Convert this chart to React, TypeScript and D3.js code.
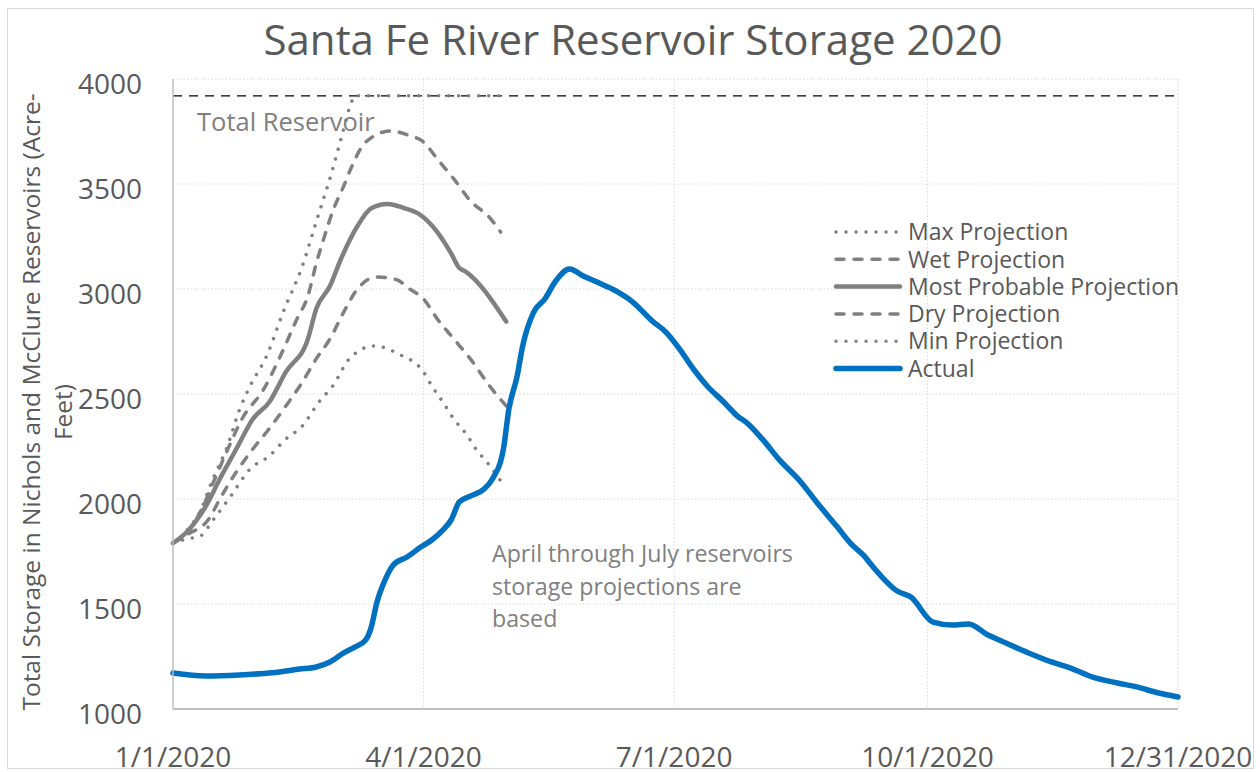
import React from 'react';
import * as d3 from 'd3';

type Pt = [string, number];

// Values (month/day in 2020, acre-feet)
const maxProjection: Pt[] = [
  ['1/1', 1790], ['1/6', 1850], ['1/11', 1945], ['1/15', 2080], ['1/21', 2260], ['1/25', 2420],
  ['1/29', 2538], ['2/4', 2681], ['2/10', 2890], ['2/17', 3110], ['2/22', 3319], ['2/28', 3571],
  ['3/2', 3714], ['3/6', 3895], ['3/7', 3920], ['4/29', 3920],
];
const wetProjection: Pt[] = [
  ['1/1', 1790], ['1/6', 1840], ['1/11', 1940], ['1/16', 2090], ['1/21', 2240], ['1/26', 2380],
  ['2/3', 2524], ['2/9', 2681], ['2/15', 2857], ['2/19', 2967], ['2/22', 3120], ['2/25', 3250],
  ['2/28', 3370], ['3/3', 3490], ['3/6', 3586], ['3/11', 3700], ['3/20', 3752], ['3/27', 3730],
  ['4/1', 3700], ['4/6', 3619], ['4/12', 3524], ['4/18', 3420], ['4/25', 3340], ['4/29', 3271],
];
const mostProbableProjection: Pt[] = [
  ['1/1', 1790], ['1/6', 1843], ['1/13', 1967], ['1/18', 2095], ['1/24', 2238], ['1/30', 2381],
  ['2/5', 2462], ['2/11', 2605], ['2/19', 2762], ['2/22', 2905], ['2/27', 3014], ['3/2', 3143],
  ['3/8', 3300], ['3/13', 3385], ['3/19', 3405], ['3/25', 3385], ['3/30', 3360], ['4/6', 3271],
  ['4/11', 3170], ['4/14', 3100], ['4/16', 3085], ['5/1', 2845],
];
const dryProjection: Pt[] = [
  ['1/1', 1790], ['1/6', 1830], ['1/14', 1905], ['1/18', 2000], ['1/24', 2129], ['1/30', 2238],
  ['2/4', 2319], ['2/11', 2443], ['2/17', 2557], ['2/22', 2667], ['2/27', 2762], ['3/3', 2890],
  ['3/8', 3000], ['3/15', 3057], ['3/22', 3045], ['3/27', 3000], ['4/1', 2952], ['4/6', 2857],
  ['4/12', 2762], ['4/18', 2667], ['4/25', 2538], ['5/1', 2443],
];
const minProjection: Pt[] = [
  ['1/1', 1790], ['1/6', 1810], ['1/11', 1824], ['1/15', 1890], ['1/22', 2014], ['1/29', 2143],
  ['2/5', 2205], ['2/11', 2286], ['2/17', 2348], ['2/23', 2462], ['2/28', 2538], ['3/5', 2667],
  ['3/14', 2729], ['3/23', 2690], ['4/1', 2605], ['4/4', 2538], ['4/8', 2462], ['4/12', 2381],
  ['4/17', 2300], ['4/20', 2238], ['4/24', 2176], ['4/29', 2086],
];
const actual: Pt[] = [
  ['1/1', 1171], ['1/13', 1157], ['1/25', 1162], ['2/6', 1173], ['2/16', 1190], ['2/22', 1200],
  ['2/27', 1224], ['3/3', 1267], ['3/7', 1295], ['3/11', 1329], ['3/13', 1390], ['3/15', 1505],
  ['3/18', 1614], ['3/21', 1686], ['3/26', 1724], ['3/31', 1771], ['4/4', 1805], ['4/8', 1852],
  ['4/11', 1900], ['4/14', 1986], ['4/18', 2014], ['4/23', 2048], ['4/26', 2095], ['4/30', 2238],
  ['5/2', 2429], ['5/5', 2586], ['5/7', 2729], ['5/11', 2890], ['5/15', 2952], ['5/19', 3038],
  ['5/24', 3095], ['5/29', 3062], ['6/3', 3033], ['6/10', 2990], ['6/16', 2938], ['6/23', 2848],
  ['6/28', 2795], ['7/3', 2714], ['7/8', 2619], ['7/13', 2538], ['7/19', 2462], ['7/24', 2395],
  ['7/27', 2367], ['8/2', 2286], ['8/8', 2190], ['8/16', 2081], ['8/22', 1981], ['8/29', 1871],
  ['9/3', 1790], ['9/8', 1729], ['9/11', 1681], ['9/20', 1562], ['9/25', 1533], ['10/3', 1414],
  ['10/10', 1400], ['10/16', 1405], ['10/23', 1352], ['10/27', 1329], ['11/6', 1271], ['11/15', 1224],
  ['11/22', 1195], ['11/30', 1152], ['12/9', 1124], ['12/16', 1105], ['12/24', 1076], ['12/31', 1057],
];
const totalReservoir = 3920;

const yTicks = [1000, 1500, 2000, 2500, 3000, 3500, 4000];
const xTicks = ['1/1', '4/1', '7/1', '10/1', '12/31'];
const noteLines = ['April through July reservoirs', 'storage projections are', 'based'];

const toDate = (md: string) => {
  const [m, d] = md.split('/').map(Number);
  return new Date(2020, m - 1, d);
};

const W = 1260;
const H = 772;
const margin = { left: 173, right: 1178, top: 79, bottom: 709 };
const FONT = "'Open Sans', sans-serif";
const GREY = '#808080';

const series = [
  { name: 'Max Projection', data: maxProjection, color: GREY, width: 3.5, dash: '0.01 10' },
  { name: 'Wet Projection', data: wetProjection, color: GREY, width: 3.5, dash: '8 10' },
  { name: 'Most Probable Projection', data: mostProbableProjection, color: GREY, width: 4.5, dash: '' },
  { name: 'Dry Projection', data: dryProjection, color: GREY, width: 3.5, dash: '8 10' },
  { name: 'Min Projection', data: minProjection, color: GREY, width: 3.5, dash: '0.01 10' },
  { name: 'Actual', data: actual, color: '#0070C0', width: 5.5, dash: '' },
];

export default function App() {
  const x = d3.scaleTime()
    .domain([new Date(2020, 0, 1), new Date(2020, 11, 31)])
    .range([margin.left, margin.right]);
  const y = d3.scaleLinear().domain([1000, 4000]).range([margin.bottom, margin.top]);

  const line = d3.line<Pt>()
    .x(d => x(toDate(d[0])))
    .y(d => y(d[1]))
    .curve(d3.curveMonotoneX);

  const fmt = d3.timeFormat('%-m/%-d/%Y');

  return (
    <svg width={W} height={H} style={{ position: 'absolute', left: 0, top: 0, background: '#fff' }}
      fontFamily={FONT}>
      <rect x={7.5} y={8.5} width={1246} height={760} fill="#fff" stroke="#d9d9d9" strokeWidth={1} />

      <text x={633} y={55} textAnchor="middle" fontSize={42} fill="#595959">
        Santa Fe River Reservoir Storage 2020
      </text>

      {/* gridlines */}
      {yTicks.filter(t => t > 1000).map(t => (
        <line key={'gy' + t} x1={margin.left} x2={margin.right} y1={y(t)} y2={y(t)}
          stroke="#d9d9d9" strokeWidth={1} strokeDasharray="1.5 2" />
      ))}
      {xTicks.slice(1).map(t => (
        <line key={'gx' + t} x1={x(toDate(t))} x2={x(toDate(t))} y1={margin.top} y2={margin.bottom}
          stroke="#d9d9d9" strokeWidth={1} strokeDasharray="1.5 2" />
      ))}

      {/* total reservoir capacity */}
      <line x1={margin.left} x2={margin.right} y1={y(totalReservoir)} y2={y(totalReservoir)}
        stroke="#000" strokeWidth={1.3} strokeDasharray="9 7" />
      <text x={197} y={131} fontSize={25.5} fill={GREY}>Total Reservoir</text>

      {series.map(s => (
        <path key={s.name} d={line(s.data) || ''} fill="none" stroke={s.color}
          strokeWidth={s.width} strokeDasharray={s.dash || undefined}
          strokeLinecap="round" strokeLinejoin="round" />
      ))}

      {/* axes */}
      <line x1={margin.left} x2={margin.left} y1={margin.top} y2={margin.bottom} stroke="#bfbfbf" strokeWidth={1.5} />
      <line x1={margin.left} x2={margin.right} y1={margin.bottom} y2={margin.bottom} stroke="#bfbfbf" strokeWidth={2} />

      {yTicks.map(t => (
        <text key={'ty' + t} x={142} y={y(t) + 15} textAnchor="end" fontSize={28} fill="#595959">{t}</text>
      ))}
      {xTicks.map(t => (
        <text key={'tx' + t} x={x(toDate(t))} y={767} textAnchor="middle" fontSize={28} fill="#595959">
          {fmt(toDate(t))}
        </text>
      ))}

      <text transform="translate(40,402) rotate(-90)" textAnchor="middle" fontSize={24.5} fill="#595959">
        Total Storage in Nichols and McClure Reservoirs (Acre-
      </text>
      <text transform="translate(72,412) rotate(-90)" textAnchor="middle" fontSize={24.5} fill="#595959">
        Feet)
      </text>

      {noteLines.map((t, i) => (
        <text key={t} x={492} y={562 + i * 32.5} fontSize={23.2} fill={GREY}>{t}</text>
      ))}

      {/* legend */}
      {series.map((s, i) => {
        const ly = 232 + i * 27.3;
        return (
          <g key={'lg' + s.name}>
            <line x1={836} x2={900} y1={ly} y2={ly} stroke={s.color} strokeWidth={s.width}
              strokeDasharray={s.dash || undefined} strokeLinecap="round" />
            <text x={908} y={ly} dy="0.36em" fontSize={23} fill="#595959">{s.name}</text>
          </g>
        );
      })}
    </svg>
  );
}
